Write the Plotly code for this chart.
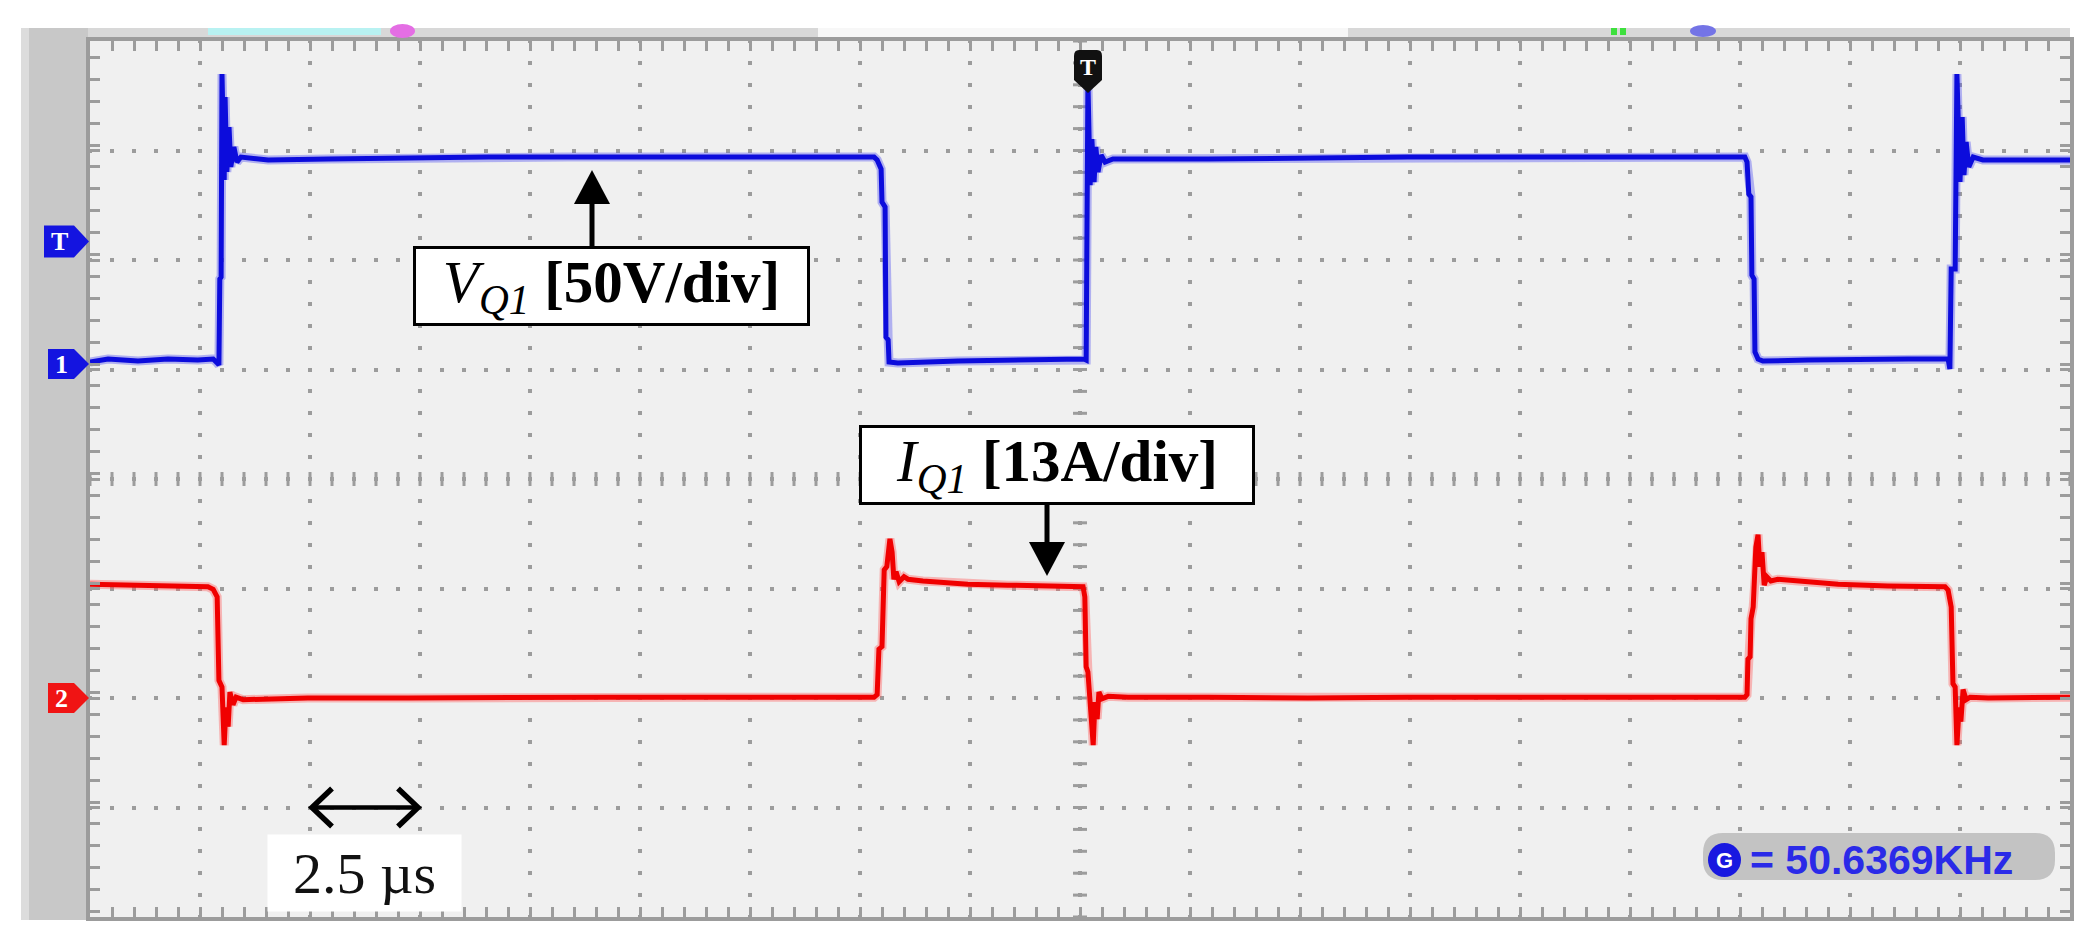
import numpy as np
import plotly.graph_objects as go

# ---------------- data ----------------
# time in microseconds (2.5 us/div, 18 div), VQ1 in volts, IQ1 in amperes
t_vq1 = [0.00, 0.41, 1.09, 1.77, 2.45, 2.80, 2.89, 2.93, 2.95, 2.98, 3.00, 3.05, 3.07, 3.11,
         3.16, 3.20, 3.27, 3.34, 3.43, 4.05, 5.41, 7.23, 9.05, 10.86, 12.68, 14.50, 16.32,
         17.82, 17.89, 17.98, 18.00, 18.07, 18.09, 18.14, 18.16, 18.36, 19.73, 20.86, 22.23,
         22.59, 22.64, 22.68, 22.73, 22.77, 22.82, 22.86, 22.91, 22.98, 23.07, 23.25, 25.41,
         27.68, 29.95, 32.23, 34.50, 36.77, 37.61, 37.66, 37.70, 37.75, 37.77, 37.82, 37.84,
         37.91, 38.02, 39.05, 40.18, 41.32, 42.23, 42.27, 42.30, 42.39, 42.43, 42.50, 42.55,
         42.59, 42.64, 42.70, 42.80, 43.02, 45.00]
v_vq1 = [0.9, 2.3, 1.4, 2.3, 1.8, 2.3, 0.5, -0.4, 38.8, 39.7, 132.4, 84.0, 121.9, 87.7,
         108.2, 90.0, 99.1, 92.2, 94.5, 93.2, 93.6, 94.1, 94.5, 94.5, 94.5, 95.0, 94.5,
         94.5, 93.2, 89.0, 74.0, 71.7, 12.3, 11.0, 0.9, 0.5, 1.4, 1.8, 2.3,
         2.3, 1.8, 128.8, 81.7, 102.7, 83.1, 99.1, 87.7, 95.4, 92.2, 93.6, 93.6,
         94.1, 94.5, 94.5, 94.5, 94.5, 94.5, 92.2, 77.6, 76.3, 40.6, 38.8, 5.5,
         2.3, 1.4, 1.8, 2.3, 2.3, 2.3, -2.3, 43.4, 43.4, 132.4, 83.1, 112.8,
         86.3, 101.4, 90.0, 94.5, 93.2, 93.2]

t_iq1 = [0.00, 0.86, 1.77, 2.68, 2.80, 2.89, 2.93, 3.00, 3.05, 3.09, 3.14, 3.18, 3.25, 3.32,
         3.48, 4.95, 7.23, 9.50, 11.77, 14.05, 16.32, 17.82, 17.89, 17.93, 18.00, 18.05,
         18.11, 18.18, 18.23, 18.27, 18.32, 18.39, 18.50, 18.59, 18.93, 19.27, 19.95, 20.86,
         21.77, 22.57, 22.61, 22.64, 22.68, 22.75, 22.80, 22.84, 22.89, 22.93, 23.00, 23.14,
         23.59, 25.41, 27.68, 29.95, 32.23, 34.50, 36.77, 37.61, 37.66, 37.68, 37.73, 37.75,
         37.80, 37.86, 37.91, 37.95, 38.00, 38.05, 38.11, 38.20, 38.36, 38.82, 39.73, 40.86,
         42.00, 42.16, 42.23, 42.30, 42.34, 42.39, 42.43, 42.48, 42.52, 42.57, 42.64, 42.73,
         43.14, 45.00]
i_iq1 = [13.5, 13.4, 13.3, 13.2, 12.9, 12.0, 2.1, 1.3, -5.6, -1.1, -3.4, 0.7, -0.8, 0.1,
         -0.2, 0.0, 0.0, 0.1, 0.1, 0.1, 0.1, 0.1, 0.4, 5.8, 6.1, 15.2,
         15.6, 18.9, 17.3, 14.1, 15.0, 13.8, 14.4, 14.1, 13.9, 13.8, 13.5, 13.4,
         13.3, 13.2, 12.0, 3.7, 3.1, -1.1, -5.6, -0.5, -2.5, 0.7, -0.1, 0.2,
         0.1, 0.1, 0.0, 0.1, 0.1, 0.0, 0.1, 0.1, 0.4, 4.6, 4.9, 9.4,
         10.8, 17.9, 19.4, 15.6, 17.3, 13.4, 14.4, 13.9, 14.1, 13.9, 13.5, 13.3,
         13.2, 13.2, 12.8, 10.8, 1.7, 1.3, -5.6, -1.1, -2.8, 1.0, -0.2, 0.1,
         0.0, 0.1]

# scope settings
time_per_div = 2.5      # us
n_hdiv = 18
n_vdiv = 8
volts_per_div = 50.0
amps_per_div = 13.0
ch1_ground_div = 1.05   # ground marker of channel 1 (divisions above centre)
ch2_ground_div = -2.0   # ground marker of channel 2
trigger_level_div = 2.17

annotation_v = "<i>V<sub>Q1</sub></i> <b>[50V/div]</b>"
annotation_i = "<i>I<sub>Q1</sub></i> <b>[13A/div]</b>"
scale_label = "2.5 µs"
freq_label = "= 50.6369KHz"

# ---------------- geometry helpers ----------------
W, H = 2088, 938
L, R, T, B = 82, 2062, 33, 909
PW, PH = R - L, B - T
DIVX = PW / n_hdiv
DIVY = PH / n_vdiv
YC = T + PH / 2


def X(px):
    return (px - L) / PW


def Y(py):
    return (B - py) / PH


v_lo = (-n_vdiv / 2 - ch1_ground_div) * volts_per_div
v_hi = (n_vdiv / 2 - ch1_ground_div) * volts_per_div
i_lo = (-n_vdiv / 2 - ch2_ground_div) * amps_per_div
i_hi = (n_vdiv / 2 - ch2_ground_div) * amps_per_div
v_centre = (0 - ch1_ground_div) * volts_per_div

GRID = "#9c9c9c"
BLUE = "#0c0cdc"
RED = "#f00000"

fig = go.Figure()

# centre-line tick marks (scope graticule decoration)
yy = np.arange(v_lo, v_hi + 0.01, volts_per_div / 5)
fig.add_trace(go.Scatter(
    x=[n_hdiv * time_per_div / 2] * len(yy), y=yy,
    mode="markers", hoverinfo="skip", showlegend=False,
    marker=dict(symbol="line-ew", size=10, line=dict(width=3, color=GRID))))
xx = np.arange(0, n_hdiv * time_per_div + 0.01, time_per_div / 5)
fig.add_trace(go.Scatter(
    x=xx, y=[v_centre] * len(xx),
    mode="markers", hoverinfo="skip", showlegend=False,
    marker=dict(symbol="line-ns", size=10, line=dict(width=3, color=GRID))))

# traces: soft halo + core line (like the scope's anti-aliased trace)
fig.add_trace(go.Scatter(x=t_vq1, y=v_vq1, mode="lines", showlegend=False, hoverinfo="skip",
                         line=dict(color="rgba(80,80,240,0.40)", width=9)))
fig.add_trace(go.Scatter(x=t_vq1, y=v_vq1, mode="lines", name="VQ1",
                         line=dict(color=BLUE, width=5)))
fig.add_trace(go.Scatter(x=t_iq1, y=i_iq1, mode="lines", showlegend=False, hoverinfo="skip",
                         yaxis="y2", line=dict(color="rgba(255,90,90,0.40)", width=9)))
fig.add_trace(go.Scatter(x=t_iq1, y=i_iq1, mode="lines", name="IQ1", yaxis="y2",
                         line=dict(color=RED, width=5)))

vper = PH / n_vdiv / 5
hper = PW / n_hdiv / 5

fig.update_layout(
    width=W, height=H,
    margin=dict(l=L, r=W - R, t=T, b=H - B),
    paper_bgcolor="white", plot_bgcolor="#f0f0f0",
    showlegend=False,
    xaxis=dict(range=[0, n_hdiv * time_per_div], tick0=0, dtick=time_per_div,
               showgrid=True, gridcolor=GRID, gridwidth=4,
               griddash=f"2px,{vper - 4:.2f}px,2px,0px",
               zeroline=False, showticklabels=False,
               ticks="inside", ticklen=10, tickwidth=3, tickcolor=GRID,
               minor=dict(dtick=time_per_div / 5, ticks="inside", ticklen=10, tickwidth=3,
                          tickcolor=GRID, showgrid=False),
               showline=True, linecolor="#9c9c9c", linewidth=4, mirror="allticks",
               fixedrange=True),
    yaxis=dict(range=[v_lo, v_hi], tick0=v_centre, dtick=volts_per_div,
               showgrid=True, gridcolor=GRID, gridwidth=4,
               griddash=f"2px,{hper - 4:.2f}px,2px,0px",
               zeroline=False, showticklabels=False,
               ticks="inside", ticklen=10, tickwidth=3, tickcolor=GRID,
               minor=dict(dtick=volts_per_div / 5, ticks="inside", ticklen=10, tickwidth=3,
                          tickcolor=GRID, showgrid=False),
               showline=True, linecolor="#9c9c9c", linewidth=4, mirror="allticks",
               fixedrange=True),
    yaxis2=dict(range=[i_lo, i_hi], overlaying="y", visible=False, fixedrange=True),
)

shapes = []


def rect(x0, y0, x1, y1, color, layer="below"):
    shapes.append(dict(type="rect", xref="paper", yref="paper", x0=X(x0), x1=X(x1),
                       y0=Y(y1), y1=Y(y0), fillcolor=color, line=dict(width=0), layer=layer))


def poly(pts, color, closed=True, width=0, fill=True, layer="above"):
    path = "M " + " L ".join(f"{X(px)},{Y(py)}" for px, py in pts) + (" Z" if closed else "")
    shapes.append(dict(type="path", xref="paper", yref="paper", path=path,
                       fillcolor=color if fill else "rgba(0,0,0,0)",
                       line=dict(width=width, color=color), layer=layer))


def seg(x0, y0, x1, y1, color, width):
    shapes.append(dict(type="line", xref="paper", yref="paper", x0=X(x0), y0=Y(y0),
                       x1=X(x1), y1=Y(y1), line=dict(color=color, width=width), layer="above"))


# scope window frame (outside plot area)
rect(13, 20, R, T - 1, "#d8d8d8")
rect(810, 20, 1340, T - 2, "#f7f7f7")
rect(13, 20, L - 2, 912, "#c8c8c8")
rect(13, 20, 21, 912, "#dcdcdc")
rect(200, 20, 373, 27, "#b8f2f2")
rect(1603, 20, 1609, 27, "#3ee03e")
rect(1612, 20, 1618, 27, "#3ee03e")
shapes.append(dict(type="circle", xref="paper", yref="paper", x0=X(382), x1=X(407),
                   y0=Y(30), y1=Y(16), fillcolor="#e46ee4", line=dict(width=0)))
shapes.append(dict(type="circle", xref="paper", yref="paper", x0=X(1682), x1=X(1708),
                   y0=Y(29), y1=Y(17), fillcolor="#7474e6", line=dict(width=0)))


def pent(x0, x1, x2, yc, h, color):
    poly([(x0, yc - h / 2), (x1, yc - h / 2), (x2, yc), (x1, yc + h / 2), (x0, yc + h / 2)],
         color)


ytrig = YC - trigger_level_div * DIVY
yg1 = YC - ch1_ground_div * DIVY
yg2 = YC - ch2_ground_div * DIVY
pent(36, 66, 81, ytrig, 32, "#1414e0")
pent(40, 66, 81, yg1, 30, "#1414e0")
pent(40, 66, 81, yg2, 30, "#f01414")

# top trigger-position marker
tx = 1080
path = (f"M {X(tx-14)},{Y(48)} Q {X(tx-14)},{Y(42)} {X(tx-9)},{Y(42)} L {X(tx+9)},{Y(42)} "
        f"Q {X(tx+14)},{Y(42)} {X(tx+14)},{Y(48)} L {X(tx+14)},{Y(72)} L {X(tx)},{Y(85)} "
        f"L {X(tx-14)},{Y(72)} Z")
shapes.append(dict(type="path", xref="paper", yref="paper", path=path,
                   fillcolor="#111111", line=dict(width=0), layer="above"))

# frequency read-out box (rounded)
fx0, fx1, fy0, fy1, r = 1695, 2047, 825, 872, 20
path = (f"M {X(fx0+r)},{Y(fy0)} L {X(fx1-r)},{Y(fy0)} Q {X(fx1)},{Y(fy0)} {X(fx1)},{Y(fy0+r)} "
        f"L {X(fx1)},{Y(fy1-r)} Q {X(fx1)},{Y(fy1)} {X(fx1-r)},{Y(fy1)} L {X(fx0+r)},{Y(fy1)} "
        f"Q {X(fx0)},{Y(fy1)} {X(fx0)},{Y(fy1-r)} L {X(fx0)},{Y(fy0+r)} Q {X(fx0)},{Y(fy0)} "
        f"{X(fx0+r)},{Y(fy0)} Z")
shapes.append(dict(type="path", xref="paper", yref="paper", path=path,
                   fillcolor="#c3c3c3", line=dict(width=0), layer="above"))
shapes.append(dict(type="circle", xref="paper", yref="paper", x0=X(1700), x1=X(1733),
                   y0=Y(869), y1=Y(835), fillcolor="#1818e0", line=dict(width=0), layer="above"))

# pointer arrows for the labels
seg(584, 238, 584, 192, "black", 5)
poly([(584, 162), (566, 196), (602, 196)], "black")
seg(1039, 497, 1039, 538, "black", 5)
poly([(1039, 568), (1021, 534), (1057, 534)], "black")
# 2.5 us double arrow, spanning one horizontal division
ya = YC + 3 * DIVY
xa0, xa1 = L + 2 * DIVX, L + 3 * DIVX
seg(xa0 + 2, ya, xa1 - 2, ya, "black", 4.5)
poly([(xa0 + 22, ya - 19), (xa0 + 2, ya), (xa0 + 22, ya + 19)], "black", closed=False,
     width=5.5, fill=False)
poly([(xa1 - 22, ya - 19), (xa1 - 2, ya), (xa1 - 22, ya + 19)], "black", closed=False,
     width=5.5, fill=False)

fig.update_layout(shapes=shapes)

SERIF = "Liberation Serif, Times New Roman, serif"
ann = []
ann.append(dict(xref="paper", yref="paper", x=X(603.5), y=Y(278), text=annotation_v,
                showarrow=False, font=dict(family=SERIF, size=59, color="black"),
                bgcolor="white", bordercolor="black", borderwidth=3, borderpad=0,
                width=391, height=74, xanchor="center", yanchor="middle"))
ann.append(dict(xref="paper", yref="paper", x=X(1049), y=Y(457), text=annotation_i,
                showarrow=False, font=dict(family=SERIF, size=59, color="black"),
                bgcolor="white", bordercolor="black", borderwidth=3, borderpad=0,
                width=390, height=74, xanchor="center", yanchor="middle"))
ann.append(dict(xref="paper", yref="paper", x=X(356.5), y=Y(865), text=scale_label,
                showarrow=False, font=dict(family=SERIF, size=58, color="#111111"),
                bgcolor="white", borderpad=0, width=193, height=76,
                xanchor="center", yanchor="middle"))
ann.append(dict(xref="paper", yref="paper", x=X(1740), y=Y(852), text=f"<b>{freq_label}</b>",
                showarrow=False, font=dict(family="Liberation Sans, Arial, sans-serif",
                                           size=41, color="#2a2ae8"),
                xanchor="left", yanchor="middle"))
ann.append(dict(xref="paper", yref="paper", x=X(1716.5), y=Y(852), text="<b>G</b>",
                showarrow=False, font=dict(family="Liberation Sans, Arial, sans-serif",
                                           size=22, color="white"),
                xanchor="center", yanchor="middle"))
for txt, xc, yc in [("T", 51, ytrig), ("1", 53, yg1), ("2", 53, yg2)]:
    ann.append(dict(xref="paper", yref="paper", x=X(xc), y=Y(yc), text=f"<b>{txt}</b>",
                    showarrow=False, font=dict(family=SERIF, size=26, color="white"),
                    xanchor="center", yanchor="middle"))
ann.append(dict(xref="paper", yref="paper", x=X(tx), y=Y(59), text="<b>T</b>",
                showarrow=False, font=dict(family=SERIF, size=24, color="white"),
                xanchor="center", yanchor="middle"))

fig.update_layout(annotations=ann)

fig.write_html("out.html")
